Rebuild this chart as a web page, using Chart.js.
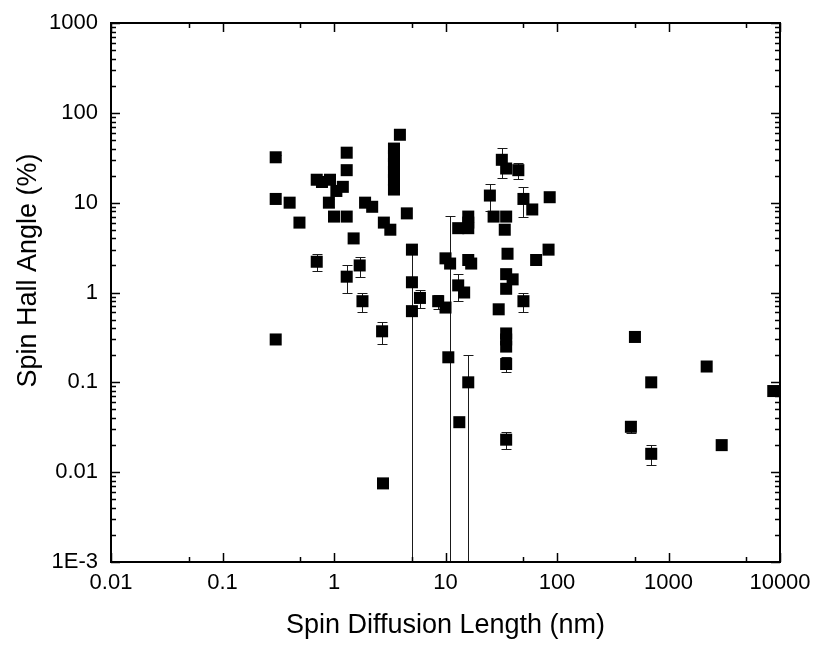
<!DOCTYPE html>
<html>
<head>
<meta charset="utf-8">
<script src="https://cdn.jsdelivr.net/npm/chart.js@4"></script>
<style>
  html, body { margin: 0; padding: 0; background: #fff; }
  #wrap { width: 817px; height: 648px; }
</style>
</head>
<body>
<div id="wrap"><canvas id="chart"></canvas></div>
<script>
// spin diffusion length (nm)
const spinLength = [
  0.3, 0.3, 0.3, 0.4, 0.49, 0.7, 0.78, 0.92, 1.05, 1.2, 0.9, 1.0, 1.3, 1.3, 1.3,
  1.9, 2.2, 1.5, 2.8, 3.2, 4.5, 3.9, 3.45, 3.45, 3.45, 3.45, 3.45, 3.45,
  0.7, 1.3, 1.7, 1.8, 2.7, 2.75,
  5, 5, 5, 5.9, 8.6, 10, 10, 10.6, 11, 13, 14.7, 13, 16, 16, 16, 16, 17, 16, 13.3,
  32, 35, 45, 25, 27, 35, 34, 50, 60, 86, 84, 65, 36, 35, 40, 35, 50, 30,
  35, 35, 35, 35, 35,
  500, 700, 460, 700, 2200, 3000, 8700
];
// spin Hall angle (%)
const hallAngle = [
  32, 11, 0.3, 10, 6, 18, 17, 18, 13.5, 15, 10, 7, 7, 36, 23,
  10, 9, 4, 6, 5, 7.6, 57, 40, 33, 27, 22, 18, 14,
  2.2, 1.5, 2.0, 0.8, 0.37, 0.0075,
  3, 1.3, 0.62, 0.87, 0.8, 0.68, 2.4, 0.19, 2.1, 1.2, 1.0, 5.2, 7, 6, 5.2, 2.3, 2.1, 0.1, 0.036,
  30, 24, 23, 12, 7, 7, 5, 11, 8.4, 11.5, 3, 2.3, 2.7, 1.6, 1.4, 1.1, 0.8, 0.65,
  0.35, 0.3, 0.25, 0.16, 0.023,
  0.32, 0.1, 0.032, 0.016, 0.15, 0.02, 0.08
];
// error bars (+ / -), 0 = none
const errPlus = [
  2, 0, 0, 0, 0, 1.5, 0, 0, 0, 0, 1, 0, 0, 0, 0,
  0, 0, 0, 0, 0, 0, 0, 0, 0, 0, 0, 0, 0,
  0.45, 0.5, 0.5, 0.2, 0.1, 0,
  0, 0, 2.4, 0.2, 0.15, 0, 0, 0, 5, 0.4, 0, 0, 0, 0, 0, 0, 0, 0.1, 0,
  11, 0, 4.5, 4, 0, 0, 0, 4, 0, 0, 0, 0, 0, 0, 0, 0, 0.2, 0,
  0, 0, 0, 0.03, 0.005,
  0, 0, 0.005, 0.004, 0, 0, 0.01
];
const errMinus = [
  2, 0, 0, 0, 0, 1.5, 0, 0, 0, 0, 1, 0, 0, 0, 0,
  0, 0, 0, 0, 0, 0, 0, 0, 0, 0, 0, 0, 0,
  0.45, 0.5, 0.5, 0.2, 0.1, 0,
  0, 0, 1, 0.2, 0.15, 0, 0, 0, 5, 0.4, 0, 0, 0, 0, 0, 0, 0, 0.1, 0,
  11, 0, 4.5, 4, 0, 0, 0, 4, 0, 0, 0, 0, 0, 0, 0, 0, 0.2, 0,
  0, 0, 0, 0.03, 0.005,
  0, 0, 0.005, 0.004, 0, 0, 0.01
];
const xTicks = [0.01, 0.1, 1, 10, 100, 1000, 10000];
const yTicks = [0.001, 0.01, 0.1, 1, 10, 100, 1000];
const yTickLabels = ['1E-3', '0.01', '0.1', '1', '10', '100', '1000'];
const yTitle = 'Spin Hall Angle (%)';

const FONT = "'Liberation Sans', Arial, sans-serif";

const errorBars = {
  id: 'errorBars',
  beforeDatasetsDraw(chart) {
    const { ctx, chartArea: a, scales: { x, y } } = chart;
    ctx.save();
    ctx.beginPath();
    ctx.rect(a.left, a.top, a.right - a.left, a.bottom - a.top);
    ctx.clip();
    ctx.strokeStyle = '#1a1a1a';
    ctx.lineWidth = 1;
    spinLength.forEach((v, i) => {
      if (!errPlus[i] && !errMinus[i]) return;
      const px = Math.round(x.getPixelForValue(v)) + 0.5;
      const hi = Math.round(y.getPixelForValue(hallAngle[i] + errPlus[i])) + 0.5;
      const lowVal = hallAngle[i] - errMinus[i];
      const lo = lowVal > 0 ? Math.round(y.getPixelForValue(lowVal)) + 0.5 : a.bottom;
      ctx.beginPath();
      ctx.moveTo(px, hi); ctx.lineTo(px, lo);
      ctx.moveTo(px - 5, hi); ctx.lineTo(px + 5, hi);
      if (lowVal > 0) { ctx.moveTo(px - 5, lo); ctx.lineTo(px + 5, lo); }
      ctx.stroke();
    });
    ctx.restore();
  }
};

const frameTicks = {
  id: 'frameTicks',
  afterDraw(chart) {
    const { ctx, chartArea: a, scales: { x, y } } = chart;
    ctx.save();
    ctx.strokeStyle = '#000';
    ctx.lineWidth = 2;
    ctx.strokeRect(a.left, a.top, a.right - a.left, a.bottom - a.top);
    ctx.lineWidth = 1.5;
    ctx.beginPath();
    // x ticks: majors at decades, minors at 5x
    for (let e = -2; e <= 4; e++) {
      [[1, 9], [5, 5]].forEach(([m, len]) => {
        const v = m * Math.pow(10, e);
        if (v > 10000) return;
        const px = Math.round(x.getPixelForValue(v)) + 0.5;
        ctx.moveTo(px, a.bottom); ctx.lineTo(px, a.bottom - len);
        ctx.moveTo(px, a.top); ctx.lineTo(px, a.top + len);
      });
    }
    // y ticks: majors at decades, minors at 2..9x
    for (let e = -3; e <= 3; e++) {
      for (let m = 1; m <= 9; m++) {
        const v = m * Math.pow(10, e);
        if (v > 1000) break;
        const len = m === 1 ? 9 : 5;
        const py = Math.round(y.getPixelForValue(v)) + 0.5;
        ctx.moveTo(a.left, py); ctx.lineTo(a.left + len, py);
        ctx.moveTo(a.right, py); ctx.lineTo(a.right - len, py);
      }
    }
    ctx.stroke();

    // y axis title, sits a little above the middle of the axis
    ctx.translate(29, (a.top + a.bottom) / 2 - 22);
    ctx.rotate(-Math.PI / 2);
    ctx.fillStyle = '#000';
    ctx.font = '27px ' + FONT;
    ctx.textAlign = 'center';
    ctx.textBaseline = 'middle';
    ctx.fillText(yTitle, 0, 0);
    ctx.restore();
  }
};

new Chart(document.getElementById('chart'), {
  type: 'scatter',
  data: {
    datasets: [{
      data: spinLength.map((v, i) => ({ x: v, y: hallAngle[i] })),
      pointStyle: 'rect',
      pointRadius: 8.5,
      pointHoverRadius: 8.5,
      backgroundColor: '#000',
      borderColor: '#000',
      borderWidth: 0
    }]
  },
  plugins: [errorBars, frameTicks],
  options: {
    responsive: true,
    maintainAspectRatio: false,
    animation: false,
    layout: { padding: { left: 0, right: 37, top: 23, bottom: 0 } },
    plugins: { legend: { display: false }, tooltip: { enabled: false } },
    scales: {
      x: {
        type: 'logarithmic',
        min: 0.01,
        max: 10000,
        afterBuildTicks: s => { s.ticks = xTicks.map(v => ({ value: v })); },
        afterFit: s => { s.height = 86; s.paddingLeft = 0; s.paddingRight = 0; },
        grid: { display: false, drawTicks: false },
        border: { display: false },
        ticks: {
          autoSkip: false,
          maxRotation: 0,
          padding: 8,
          color: '#000',
          font: { family: FONT, size: 22 },
          callback: v => String(v)
        },
        title: {
          display: true,
          text: 'Spin Diffusion Length (nm)',
          color: '#000',
          font: { family: FONT, size: 27 },
          padding: { top: 0, bottom: 6 }
        }
      },
      y: {
        type: 'logarithmic',
        min: 0.001,
        max: 1000,
        afterBuildTicks: s => { s.ticks = yTicks.map(v => ({ value: v })); },
        afterFit: s => { s.width = 111; s.paddingTop = 0; s.paddingBottom = 0; },
        grid: { display: false, drawTicks: false },
        border: { display: false },
        ticks: {
          autoSkip: false,
          padding: 13,
          color: '#000',
          font: { family: FONT, size: 22 },
          callback: v => yTickLabels[yTicks.indexOf(v)] ?? ''
        },
        title: { display: false }
      }
    }
  }
});
</script>
</body>
</html>
